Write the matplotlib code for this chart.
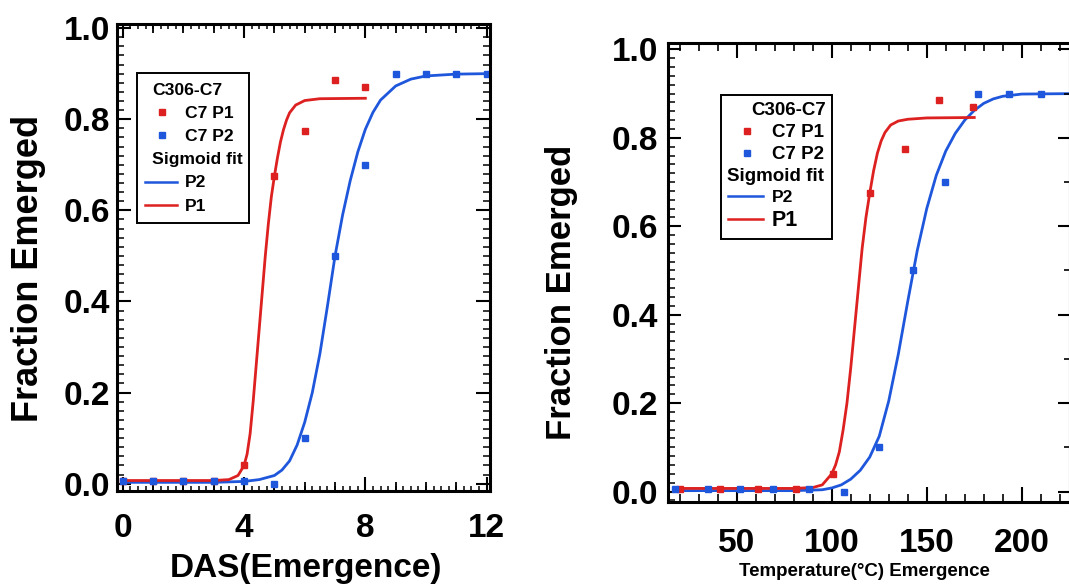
import matplotlib
matplotlib.use('Agg')
import matplotlib.pyplot as plt
from matplotlib.lines import Line2D
from matplotlib.ticker import MultipleLocator, FormatStrFormatter
from matplotlib.offsetbox import (AnchoredOffsetbox, VPacker, HPacker,
                                  TextArea, DrawingArea)

RED = '#dd2020'
BLUE = '#1f57dc'

# observed fraction emerged, per day after sowing
days_p1 = [0, 1, 2, 3, 4, 5, 6, 7, 8]
frac_p1 = [0.005, 0.005, 0.005, 0.005, 0.04, 0.675, 0.775, 0.885, 0.87]
days_p2 = [0, 1, 2, 3, 4, 5, 6, 7, 8, 9, 10, 11, 12]
frac_p2 = [0.005, 0.005, 0.005, 0.005, 0.005, 0.0, 0.10, 0.50, 0.70,
           0.90, 0.90, 0.90, 0.90]

# same observations against accumulated temperature
temp_p1 = [20, 41, 61, 81, 100.8, 120, 138.6, 156.6, 174.5]
temp_p2 = [17.5, 35, 51.5, 69, 88, 106.5, 124.7, 142.6, 159.6, 176.8,
           193.5, 210, 227]

# sigmoid fit curves
fit_days_p1 = [0, 3.0, 3.5, 3.8, 4.0, 4.1, 4.2, 4.3, 4.4, 4.5, 4.6, 4.7,
               4.8, 4.9, 5.0, 5.1, 5.2, 5.3, 5.4, 5.5, 5.7, 6.0, 6.5, 8.0]
fit_frac_p1 = [0.007, 0.007, 0.009, 0.018, 0.040, 0.065, 0.11, 0.18, 0.26,
               0.34, 0.42, 0.50, 0.57, 0.63, 0.675, 0.715, 0.75, 0.777,
               0.798, 0.814, 0.831, 0.841, 0.845, 0.846]
fit_days_p2 = [0, 3, 4, 4.5, 5, 5.25, 5.5, 5.75, 6, 6.25, 6.5, 6.75, 7,
               7.25, 7.5, 7.75, 8, 8.25, 8.5, 9, 9.5, 10, 11, 12]
fit_frac_p2 = [0.003, 0.003, 0.005, 0.009, 0.018, 0.03, 0.05, 0.085, 0.135,
               0.20, 0.285, 0.39, 0.50, 0.59, 0.665, 0.728, 0.778, 0.815,
               0.842, 0.873, 0.888, 0.895, 0.899, 0.90]

fit_temp_p1 = [17, 80, 90, 95, 100, 102, 104, 106, 108, 110, 112, 114, 116,
               118, 120, 122, 124, 126, 128, 131, 135, 140, 150, 175]
fit_tfrac_p1 = [0.007, 0.007, 0.009, 0.015, 0.04, 0.06, 0.09, 0.14, 0.20,
                0.28, 0.37, 0.46, 0.55, 0.62, 0.675, 0.725, 0.765, 0.793,
                0.812, 0.829, 0.838, 0.842, 0.845, 0.846]
fit_temp_p2 = [17, 80, 95, 100, 105, 110, 115, 120, 125, 130, 135, 140,
               145, 150, 155, 160, 165, 170, 175, 180, 185, 190, 200, 226]
fit_tfrac_p2 = [0.002, 0.002, 0.004, 0.008, 0.015, 0.028, 0.048, 0.078,
                0.125, 0.205, 0.31, 0.43, 0.545, 0.64, 0.715, 0.77, 0.81,
                0.84, 0.862, 0.878, 0.888, 0.894, 0.899, 0.90]


def add_legend(ax, anchor, rows, handle_w, mark_x, line_x, sep, vextra):
    lines = []
    for kind, text, color, size, indent in rows:
        if kind == 'head':
            da = DrawingArea(indent, 1)
        else:
            da = DrawingArea(handle_w, 10)
            if kind == 'mark':
                da.add_artist(Line2D([mark_x], [6], marker='s', ms=3.8,
                                     ls='none', color=color))
            else:
                da.add_artist(Line2D(line_x, [6, 6], lw=1.8, color=color))
        ta = TextArea(text, textprops=dict(size=size, weight='bold'))
        lines.append(HPacker(children=[da, ta], align='center', pad=0, sep=0))
    body = VPacker(children=lines, align='left', pad=0, sep=sep)
    box = VPacker(children=[DrawingArea(0, vextra), body, DrawingArea(0, vextra)],
                  align='left', pad=0, sep=0)
    ab = AnchoredOffsetbox(loc='upper left', child=box, pad=0.43, borderpad=0,
                           frameon=True, bbox_to_anchor=anchor,
                           bbox_transform=ax.transAxes, prop=dict(size=10))
    ab.patch.set_edgecolor('black')
    ab.patch.set_linewidth(1.4)
    ax.add_artist(ab)


def style_spines(ax):
    for s in ax.spines.values():
        s.set_linewidth(2.2)


def main():
    plt.rcParams['font.family'] = ['Liberation Sans', 'DejaVu Sans']
    plt.rcParams['font.weight'] = 'bold'
    plt.rcParams['axes.labelweight'] = 'bold'

    fig = plt.figure(figsize=(10.69, 5.88), dpi=100)

    # ---- left: days after sowing ----
    ax1 = fig.add_axes([0.10945, 0.16497, 0.34892, 0.79422])
    ax1.plot(fit_days_p2, fit_frac_p2, color=BLUE, lw=2.0)
    ax1.plot(fit_days_p1, fit_frac_p1, color=RED, lw=2.0)
    ax1.plot(days_p1, frac_p1, 's', ms=5, color=RED, ls='none')
    ax1.plot(days_p2, frac_p2, 's', ms=5, color=BLUE, ls='none')

    ax1.set_xlim(-0.19, 12.11)
    ax1.set_ylim(-0.016, 1.009)
    ax1.xaxis.set_major_locator(MultipleLocator(4))
    ax1.xaxis.set_minor_locator(MultipleLocator(0.25))
    ax1.yaxis.set_major_locator(MultipleLocator(0.2))
    ax1.yaxis.set_minor_locator(MultipleLocator(0.02))
    ax1.yaxis.set_major_formatter(FormatStrFormatter('%.1f'))
    ax1.tick_params(which='both', direction='in', top=True, right=True)
    ax1.tick_params(which='major', length=10, width=1.5, labelsize=24)
    ax1.tick_params(axis='x', which='major', pad=15.5)
    ax1.tick_params(axis='y', which='major', pad=5)
    ax1.tick_params(axis='x', which='minor', length=3.5, width=1.1)
    ax1.tick_params(axis='y', which='minor', length=5, width=1.1)
    for side in ('top', 'bottom'):
        sec = ax1.secondary_xaxis(side)
        sec.set_xticks(days_p2)
        sec.tick_params(direction='in', length=6.5, width=1.3,
                        labelbottom=False, labeltop=False)
        for s in sec.spines.values():
            s.set_visible(False)
    style_spines(ax1)

    ax1.set_xlabel('DAS(Emergence)', fontsize=24)
    ax1.xaxis.set_label_coords(0.507, -0.133)
    ax1.set_ylabel('Fraction Emerged', fontsize=26)
    ax1.yaxis.set_label_coords(-0.19, 0.4775)

    add_legend(ax1, (0.0536, 0.895),
               [('head', 'C306-C7', None, 12.6, 6.5),
                ('mark', 'C7 P1', RED, 12.6, 0),
                ('mark', 'C7 P2', BLUE, 12.6, 0),
                ('head', 'Sigmoid fit', None, 12.6, 6.5),
                ('line', 'P2', BLUE, 12.6, 0),
                ('line', 'P1', RED, 12.6, 0)],
               handle_w=30.2, mark_x=13.7, line_x=[1.4, 24.5],
               sep=5.9, vextra=2.6)

    # ---- right: accumulated temperature ----
    ax2 = fig.add_axes([0.62488, 0.14626, 0.37605, 0.78061])
    ax2.plot(fit_temp_p2, fit_tfrac_p2, color=BLUE, lw=2.0)
    ax2.plot(fit_temp_p1, fit_tfrac_p1, color=RED, lw=2.0)
    ax2.plot(temp_p1, frac_p1, 's', ms=4.7, color=RED, ls='none')
    ax2.plot(temp_p2, frac_p2, 's', ms=4.7, color=BLUE, ls='none')

    ax2.set_xlim(13.8, 225.4)
    ax2.set_ylim(-0.0237, 1.0145)
    ax2.xaxis.set_major_locator(MultipleLocator(50))
    ax2.xaxis.set_minor_locator(MultipleLocator(10))
    ax2.yaxis.set_major_locator(MultipleLocator(0.2))
    ax2.yaxis.set_minor_locator(MultipleLocator(0.02))
    ax2.yaxis.set_major_formatter(FormatStrFormatter('%.1f'))
    ax2.tick_params(which='both', direction='in', top=True, right=False)
    ax2.tick_params(which='major', width=1.5, labelsize=24)
    ax2.tick_params(axis='x', which='major', length=10.8, pad=19)
    ax2.tick_params(axis='x', which='minor', length=5.8, width=1.2)
    ax2.tick_params(axis='y', which='major', length=9.4, pad=7)
    ax2.tick_params(axis='y', which='minor', length=5, width=1.1)
    style_spines(ax2)

    ax2r = ax2.twinx()
    ax2r.set_ylim(ax2.get_ylim())
    ax2r.yaxis.set_major_locator(MultipleLocator(0.2))
    ax2r.yaxis.set_minor_locator(MultipleLocator(0.1))
    ax2r.tick_params(which='both', direction='in', labelright=False)
    ax2r.tick_params(which='major', length=9, width=1.5)
    ax2r.tick_params(which='minor', length=4.5, width=1.2)
    for s in ax2r.spines.values():
        s.set_visible(False)

    ax2.set_xlabel('Temperature(°C) Emergence', fontsize=13.5)
    ax2.xaxis.set_label_coords(0.4876, -0.1335)
    ax2.set_ylabel('Fraction Emerged', fontsize=25)
    ax2.yaxis.set_label_coords(-0.224, 0.456)

    add_legend(ax2, (0.131, 0.8867),
               [('head', 'C306-C7', None, 13.5, 18),
                ('mark', 'C7 P1', RED, 13.5, 0),
                ('mark', 'C7 P2', BLUE, 13.5, 0),
                ('head', 'Sigmoid fit', None, 13.5, 0.01),
                ('line', 'P2', BLUE, 12.5, 0),
                ('line', 'P1', RED, 15.5, 0)],
               handle_w=32.4, mark_x=14.4, line_x=[0.9, 26.1],
               sep=3.6, vextra=1.0)

    fig.savefig('out.png', dpi=100)


if __name__ == "__main__": main()
